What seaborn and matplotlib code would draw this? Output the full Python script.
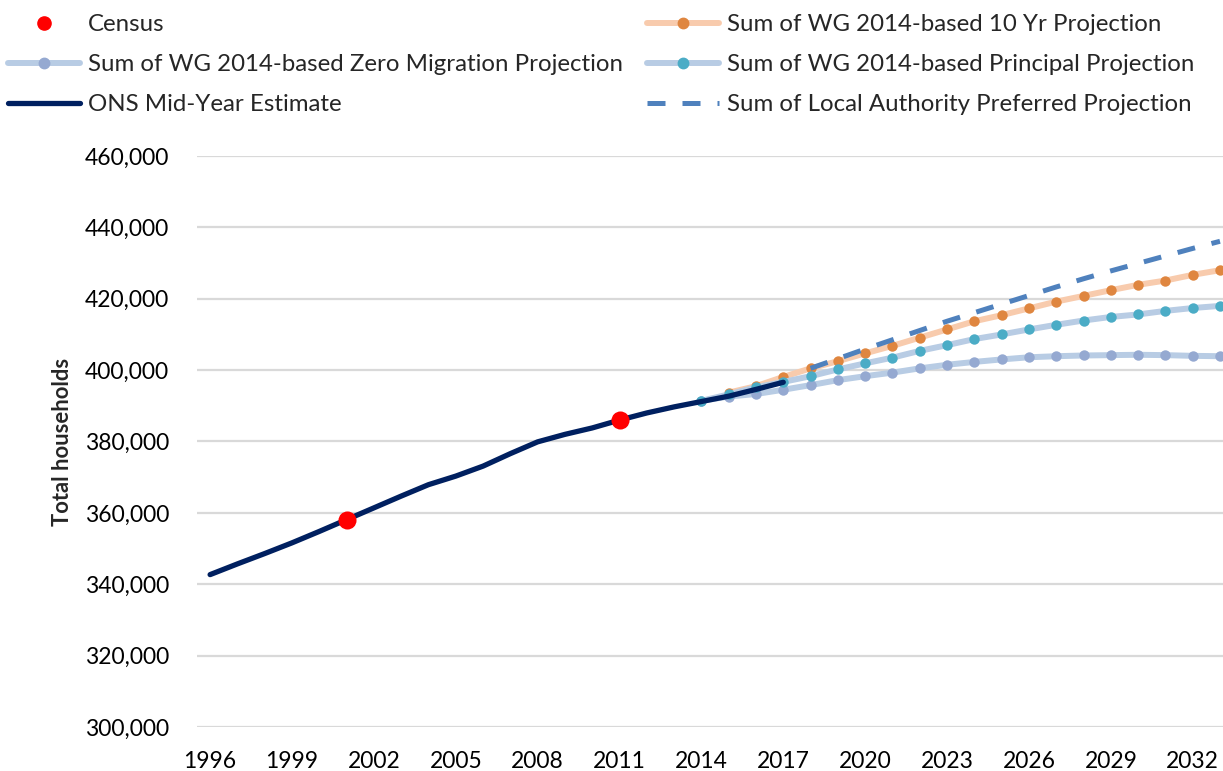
import numpy as np
import pandas as pd
import matplotlib
matplotlib.use("Agg")
import matplotlib.pyplot as plt
from matplotlib.lines import Line2D
from matplotlib.ticker import FuncFormatter
import seaborn as sns

# ---------------- data ----------------
ons_years = list(range(1996, 2018))
ons_values = [342700, 345700, 348600, 351600, 354800, 358100, 361400, 364700,
              367900, 370300, 373100, 376600, 379900, 382000, 383800, 386000,
              388000, 389700, 391200, 392700, 394600, 396600]

census_years = [2001, 2011]
census_values = [358100, 385900]

tenyr_years = list(range(2015, 2034))
tenyr_values = [393700, 395500, 398100, 400500, 402500, 404700, 406800, 409100,
                411400, 413700, 415400, 417300, 419200, 420800, 422400, 423900,
                425100, 426700, 428000]

principal_years = list(range(2014, 2034))
principal_values = [391400, 393200, 395200, 396700, 398300, 400200, 401900, 403500,
                    405400, 407000, 408700, 410000, 411400, 412700, 413900, 414900,
                    415600, 416600, 417400, 418000]

zero_years = list(range(2014, 2034))
zero_values = [391400, 392600, 393300, 394500, 395800, 397200, 398300, 399300,
               400500, 401500, 402300, 403000, 403600, 403900, 404100, 404200,
               404300, 404200, 404000, 403900]

la_years = list(range(2018, 2034))
la_values = [400500, 403200, 405900, 408500, 411100, 413700, 416100, 418500,
             420900, 423300, 425600, 427800, 429900, 432000, 434100, 436100]

x_ticks = list(range(1996, 2033, 3))

labels = {
    "census": "Census",
    "tenyr": "Sum of WG 2014-based 10 Yr Projection",
    "zero": "Sum of WG 2014-based Zero Migration Projection",
    "principal": "Sum of WG 2014-based Principal Projection",
    "ons": "ONS Mid-Year Estimate",
    "la": "Sum of Local Authority Preferred Projection",
}

# ---------------- style ----------------
sns.set_style("white")
plt.rcParams["font.family"] = ["Lato", "DejaVu Sans"]
FS_LEG = 17.3
FS_TICK = 16.5
FS_LAB = 15.8

c_census = "#FF0000"
c_tenyr_line, c_tenyr_mk = "#F8CBAD", "#DF8640"
c_zero_line, c_zero_mk = "#B8CCE4", "#95A9D1"
c_prin_line, c_prin_mk = "#B8CCE4", "#4BACC6"
c_ons = "#002060"
c_la = "#4F81BD"

fig = plt.figure(figsize=(12.23, 7.71), dpi=100)
ax = fig.add_axes([197 / 1223, 1 - 727 / 771, 1026 / 1223, (727 - 156) / 771])

LW_PROJ = 4.3
MS = 7.5

def proj(years, values, lc, mc, z):
    sns.lineplot(x=years, y=values, ax=ax, color=lc, linewidth=LW_PROJ,
                 zorder=z, legend=False)
    sns.scatterplot(x=years, y=values, ax=ax, color=mc, s=MS ** 2,
                    edgecolor=mc, linewidth=0, zorder=z + 0.1, legend=False,
                    clip_on=False)

proj(tenyr_years, tenyr_values, c_tenyr_line, c_tenyr_mk, 3)
proj(zero_years, zero_values, c_zero_line, c_zero_mk, 4)
proj(principal_years, principal_values, c_prin_line, c_prin_mk, 5)

sns.lineplot(x=la_years, y=la_values, ax=ax, color=c_la, linewidth=3.6,
             zorder=6, legend=False)
ax.lines[-1].set_dashes((3.6, 3.4))

sns.lineplot(x=ons_years, y=ons_values, ax=ax, color=c_ons, linewidth=3.8,
             zorder=7, legend=False)
ax.lines[-1].set_solid_capstyle("round")

sns.scatterplot(x=census_years, y=census_values, ax=ax, color=c_census,
                s=13 ** 2, linewidth=0, zorder=8, legend=False)

# ---------------- axes ----------------
ax.set_xlim(1995.52, 2033.11)
ax.set_ylim(300000, 460000)
ax.set_yticks(np.arange(300000, 460001, 20000))
ax.set_xticks(x_ticks)
ax.yaxis.set_major_formatter(FuncFormatter(lambda v, p: f"{int(v):,}"))
ax.grid(axis="y", color="#D9D9D9", linewidth=1.6, zorder=0)
ax.grid(axis="x", visible=False)
for s in ax.spines.values():
    s.set_visible(False)
ax.tick_params(axis="both", length=0, labelsize=FS_TICK, colors="#000000")
ax.tick_params(axis="y", pad=20)
ax.tick_params(axis="x", pad=17)
ax.set_xlabel("")
ax.set_ylabel("Total households", fontsize=FS_LAB, fontweight="bold")
ax.yaxis.set_label_coords((73 - 197) / 1026, 0.5)

# ---------------- legend ----------------
def h_proj(lc, mc):
    return Line2D([], [], color=lc, linewidth=LW_PROJ, marker="o",
                  markersize=MS, markerfacecolor=mc, markeredgecolor=mc)

h_census = Line2D([], [], color=c_census, linestyle="none", marker="o",
                  markersize=MS + 2)
h_ons = Line2D([], [], color=c_ons, linewidth=3.8, solid_capstyle="round")
h_la = Line2D([], [], color=c_la, linewidth=3.6, dashes=(3.6, 3.4))

common = dict(frameon=False, fontsize=FS_LEG, handlelength=3.0,
              handletextpad=0.33, labelspacing=0.79, borderaxespad=0,
              borderpad=0)
leg1 = fig.legend([h_census, h_proj(c_zero_line, c_zero_mk), h_ons],
                  [labels["census"], labels["zero"], labels["ons"]],
                  loc="upper left", bbox_to_anchor=(8 / 1223, 1 - 14 / 771),
                  **common)
leg2 = fig.legend([h_proj(c_tenyr_line, c_tenyr_mk),
                   h_proj(c_prin_line, c_prin_mk), h_la],
                  [labels["tenyr"], labels["principal"], labels["la"]],
                  loc="upper left", bbox_to_anchor=(647 / 1223, 1 - 14 / 771),
                  **common)

fig.savefig("out.png", dpi=100)
